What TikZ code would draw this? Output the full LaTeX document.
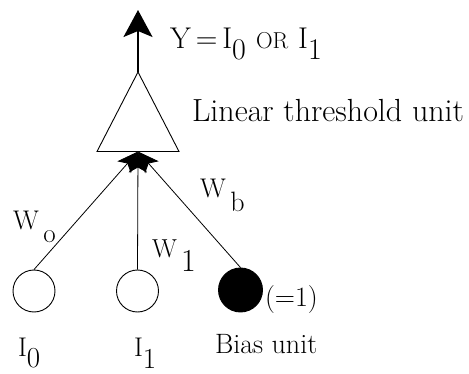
\documentclass[tikz,border=0pt]{standalone}
\usepackage{fontspec}
\usetikzlibrary{arrows.meta}
\newcommand{\fsz}[1]{\fontsize{#1}{#1}\selectfont}
\newcommand{\lowr}[2]{\raisebox{-#1pt}{#2}}
\tikzset{
  unit/.style={circle, draw, line width=0.9pt, minimum size=42pt, inner sep=0pt},
  wire/.style={line width=0.8pt},
  lbl/.style={anchor=base west, inner sep=0pt, outer sep=0pt},
}
\begin{document}
\begin{tikzpicture}[x=1pt,y=-1pt]
\useasboundingbox (0,0) rectangle (469,374);
% units
\node[unit] (i0) at (34,291) {};
\node[unit] (i1) at (137.5,291) {};
\node[unit, fill=black, minimum size=44pt] (bias) at (240.5,290) {};
% threshold unit
\coordinate (apex) at (138,72);
\coordinate (basec) at (138,151.5);
\draw[line width=0.9pt] (apex) -- (97,151.5) -- (179,151.5) -- cycle;
\coordinate (out) at (138,10);
\draw[line width=1.8pt, -{Stealth[length=27pt, width=29pt, inset=6pt]}] (apex) -- (out);
% connections
\draw[wire, -{Stealth[length=21pt, width=18pt, inset=5pt]}] (i0.north) -- (basec);
\draw[wire, -{Stealth[length=21pt, width=18pt, inset=5pt]}] (i1.north) -- (basec);
\draw[wire, -{Stealth[length=21pt, width=18pt, inset=5pt]}] (bias.north) -- (basec);
% labels
\node[lbl, font=\fsz{30}] (ylab) at (170,49) {Y\,=\,I\lowr{11}{0}\,\,{\fsz{23}OR}\,\,I\lowr{11}{1}};
\node[lbl, font=\fsz{32}] (ltu) at (192,122) {Linear threshold unit};
\node[lbl, font=\fsz{27}] (w0) at (13,230) {W\,\lowr{13}{o}};
\node[lbl, font=\fsz{26}] (w1) at (152,258) {W\,\lowr{14}{\fsz{32}1}};
\node[lbl, font=\fsz{27}] (wb) at (200,198) {W\,\lowr{14}{\fsz{28}b}};
\node[lbl, font=\fsz{28}] (one) at (265,307) {(=1)};
\node[lbl, font={\fsz{28}\addfontfeature{LetterSpace=8}}] (biaslab) at (215,353) {Bias unit};
\node[lbl, font=\fsz{27}] (i0lab) at (18,356) {I\lowr{11}{\fsz{29}0}};
\node[lbl, font=\fsz{27}] (i1lab) at (134,356) {I\lowr{12}{\fsz{29}1}};
\end{tikzpicture}
\end{document}
